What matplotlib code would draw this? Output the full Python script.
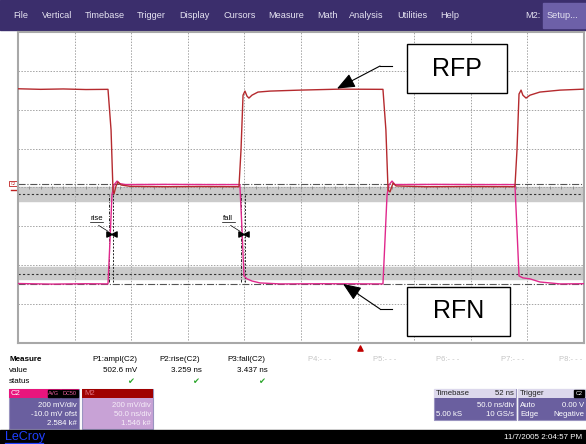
import matplotlib.pyplot as plt
import matplotlib.patches as mpatches
import numpy as np

plt.rcParams['font.family'] = ['Liberation Sans', 'DejaVu Sans']

# C2 trace (RFP) and M2 trace (RFN): time in ns, level in mV
t_rfp = [0, 20, 40, 60, 79.5, 82.2, 83.9, 84.8, 86.6, 88.3, 91, 99, 130, 160, 195.2,
         197, 198.8, 200.5, 202.3, 204, 206.7, 212, 222.6, 249, 284, 322.4, 325, 326.9,
         328.6, 331.3, 334, 360, 400, 439, 440.8, 442.6, 444.4, 446, 448.8, 452.3, 461,
         478.8, 500]
v_rfp = [508, 505, 507, 504, 505, 296, -13, -33, 8, 28, 13, 6, 4, 5, 4,
         193, 475, 496, 470, 460, 475, 491, 496, 501, 506, 505, 296, -13,
         -23, 23, 8, 4, 5, 4, 193, 481, 501, 475, 460, 475, 491,
         501, 506]

t_rfn = [0, 30, 60, 79.5, 81.3, 83, 84.8, 87.5, 90, 95, 130, 170, 196, 197.9, 199.6,
         202.3, 206.7, 213.8, 231.5, 270, 322.4, 324.2, 326, 327.7, 330.4, 333, 370,
         410, 439, 440.8, 442.6, 446, 452.3, 461, 478.8, 500]
v_rfn = [-494, -497, -495, -496, -270, -38, 13, 33, 20, 15, 16, 15, 15, -218, -455,
         -470, -481, -491, -496, -495, -496, -270, -38, 13, 33, 15, 16,
         15, 15, -218, -455, -465, -470, -486, -496, -495]

# rise / fall measurement on C2
top_level, base_level = 18, -495
band_90 = (-69, 3)
band_10 = (-472, -410)
level_90, level_10 = -33, -444
rise_start, rise_time = 80.6, 3.259
fall_start, fall_time = 197.1, 3.437

meas_names = ['P1:ampl(C2)', 'P2:rise(C2)', 'P3:fall(C2)']
meas_values = ['502.6 mV', '3.259 ns', '3.437 ns']
meas_x = [115, 180, 246]
empty_params = ['P4:- - -', 'P5:- - -', 'P6:- - -', 'P7:- - -', 'P8:- - -']
empty_x = [320, 385, 448, 513, 571]

menu_items = ['File', 'Vertical', 'Timebase', 'Trigger', 'Display', 'Cursors',
              'Measure', 'Math', 'Analysis', 'Utilities', 'Help']
menu_x = [13, 42, 85, 137, 179, 223, 268, 317, 349, 397, 440]

c_rfp = '#b52a2e'
c_rfn = '#e0288c'
purple = '#6a5f9f'

W, H = 586, 444
fig = plt.figure(figsize=(W / 100, H / 100), dpi=100)
fig.patch.set_facecolor('white')

# screen furniture drawn in pixel units
ov = fig.add_axes([0, 0, 1, 1], zorder=1)
ov.set_xlim(0, W)
ov.set_ylim(H, 0)
ov.axis('off')

ov.add_patch(mpatches.Rectangle((0, 0), W, 30, color='#3b2e6c'))
for name, x in zip(menu_items, menu_x):
    ov.text(x, 16, name, color='#e6e4f2', fontsize=6.6, va='center')
ov.text(525, 16, 'M2:', color='#e6e4f2', fontsize=6.6, va='center')
ov.add_patch(mpatches.Rectangle((543, 3), 50, 25, color='#6d60a8'))
ov.text(547, 16, 'Setup...', color='#e6e4f2', fontsize=6.6, va='center')

# channel marker on the left edge
ov.add_patch(mpatches.Rectangle((9, 181), 8, 5, fc='white', ec='#c02020', lw=0.6))
ov.text(13, 183.5, 'C2', color='#c02020', fontsize=3, ha='center', va='center')
ov.plot([11, 18], [190, 190], color='#c02020', lw=1)

# trigger position marker
ov.scatter([360], [347.5], marker='^', s=14, color='#c00000', zorder=3)

# measurement table
ov.text(9, 359, 'Measure', fontsize=5.8, fontweight='bold', va='center')
ov.text(9, 370, 'value', fontsize=5.8, va='center')
ov.text(9, 381, 'status', fontsize=5.8, va='center')
for name, val, x in zip(meas_names, meas_values, meas_x):
    ov.text(x, 359, name, fontsize=5.8, ha='center', va='center')
    ov.text(x + 22, 370, val, fontsize=5.8, ha='right', va='center')
    ov.text(x + 16, 381, '\u2714', fontsize=6, ha='center', va='center',
            color='#2aa52a', family='DejaVu Sans')
for name, x in zip(empty_params, empty_x):
    ov.text(x, 359, name, fontsize=5.5, ha='center', va='center', color='#c4c4c4')


def info_box(x0, x1, y0, y1, head_col, body_col, head_left, head_col_txt,
             lines, txt_col='white'):
    ov.add_patch(mpatches.Rectangle((x0, y0), x1 - x0, y1 - y0, fc=body_col,
                                    ec='#9a94c0', lw=0.8))
    ov.add_patch(mpatches.Rectangle((x0, y0), x1 - x0, 9, fc=head_col, ec='none'))
    ov.text(x0 + 2, y0 + 4.5, head_left, fontsize=5.6, va='center', color=head_col_txt)
    for i, (left, right) in enumerate(lines):
        y = y0 + 16.5 + 9.2 * i
        if left:
            ov.text(x0 + 2, y, left, fontsize=5.6, va='center', color=txt_col)
        ov.text(x1 - 2, y, right, fontsize=5.6, va='center', ha='right', color=txt_col)


info_box(9, 79, 389, 429, '#e8157d', purple, 'C2', 'white',
         [('', '200 mV/div'), ('', '-10.0 mV ofst'), ('', '2.584 k#')])
ov.add_patch(mpatches.Rectangle((48, 390), 12, 7, color='black'))
ov.add_patch(mpatches.Rectangle((61, 390), 17, 7, color='black'))
ov.text(54, 393.5, 'AVG', fontsize=4, color='#f060a0', ha='center', va='center')
ov.text(69.5, 393.5, 'DC50', fontsize=4, color='#f060a0', ha='center', va='center')

info_box(82, 153, 389, 429, '#a00000', '#c8a2d6', 'M2', '#e07080',
         [('', '200 mV/div'), ('', '50.0 ns/div'), ('', '1.546 k#')],
         txt_col='#f6eef8')

info_box(434, 516, 389, 420, '#dcd8ec', purple, 'Timebase', '#222222',
         [('', '50.0 ns/div'), ('5.00 kS', '10 GS/s')])
ov.text(514, 393.5, '52 ns', fontsize=5.6, va='center', ha='right', color='#222222')
info_box(518, 586, 389, 420, '#dcd8ec', purple, 'Trigger', '#222222',
         [('Auto', '0.00 V'), ('Edge', 'Negative')])
ov.add_patch(mpatches.Rectangle((574, 390), 10, 7, color='black'))
ov.text(579, 393.5, 'C2', fontsize=4, color='white', ha='center', va='center')

# status bar
ov.add_patch(mpatches.Rectangle((0, 430), W, 14, color='black'))
ov.text(5, 437, 'LeCroy', fontsize=9, color='#2040ff', va='center')
ov.plot([5, 43], [443, 443], color='#2040ff', lw=0.9)
ov.text(582, 437.5, '11/7/2005 2:04:57 PM', fontsize=5.8, color='white',
        ha='right', va='center')

# scope graticule
ax = fig.add_axes([18 / W, (H - 343) / H, 566 / W, 311 / H], zorder=2)
ax.set_xlim(0, 500)
ax.set_ylim(-800, 800)
ax.set_xticks(np.arange(50, 500, 50))
ax.set_yticks(np.arange(-600, 800, 200))
ax.tick_params(length=0, labelbottom=False, labelleft=False)
ax.grid(True, color='#a4a4a4', lw=0.7, linestyle=(0, (1.5, 1.5)))
for s in ax.spines.values():
    s.set_color('#a8a8a8')
    s.set_linewidth(1.5)

# minor ticks on the horizontal centre line
ax.vlines(np.arange(10, 500, 10), -10, 10, color='#888888', lw=0.6)

# threshold bands and levels
ax.axhspan(*band_90, color='#cbcbcb', zorder=1)
ax.axhspan(*band_10, color='#cbcbcb', zorder=1)
ax.axhline(top_level, color='#555555', lw=0.8, linestyle='-.', zorder=2)
ax.axhline(base_level, color='#555555', lw=0.8, linestyle='-.', zorder=2)
ax.axhline(level_90, color='#333333', lw=0.8, linestyle=(0, (2, 2)), zorder=2)
ax.axhline(level_10, color='#333333', lw=0.8, linestyle=(0, (2, 2)), zorder=2)

for t0, dt, lab in [(rise_start, rise_time, 'rise'), (fall_start, fall_time, 'fall')]:
    ax.vlines([t0, t0 + dt], base_level + 10, level_90 - 5, color='#222222', lw=0.7,
              linestyles=[(0, (3, 1.5, 1, 1.5)), (0, (2, 1.5))], zorder=3)
    tm = t0 + dt / 2
    vm = (top_level + base_level) / 2
    ax.scatter([tm - 2.2], [vm], marker='>', s=14, color='black', zorder=5)
    ax.scatter([tm + 2.2], [vm], marker='<', s=14, color='black', zorder=5)
    ax.text(tm - 13, -158, lab, fontsize=5.6, ha='center', va='center')
    ax.plot([tm - 19, tm - 7], [-178, -178], color='black', lw=0.5)
    ax.plot([tm - 11, tm - 2.5], [-195, -226], color='black', lw=0.5)

ax.plot(t_rfn, v_rfn, color=c_rfn, lw=1.0, zorder=4)
ax.plot(t_rfp, v_rfp, color=c_rfp, lw=1.0, zorder=4)

# trace labels
for lab, tip, y_lead, box in [('RFP', (281.8, 509), 625, (343.4, 485.8, 88.3, 252)),
                              ('RFN', (287.1, -496), -625, (343.4, -763, 91.2, 253))]:
    ax.plot([319.8, 330.4], [y_lead, y_lead], color='black', lw=0.8, zorder=5)
    ax.annotate('', xy=tip, xytext=(319.8, y_lead), zorder=5,
                arrowprops=dict(arrowstyle='-|>,head_length=1.1,head_width=0.45',
                                color='black', lw=0.8, shrinkA=0, shrinkB=0))
    bx, by, bw, bh = box
    ax.add_patch(mpatches.Rectangle((bx, by), bw, bh, fc='white', ec='black',
                                    lw=1.0, zorder=5))
    ax.text(bx + bw / 2, by + bh / 2, lab, fontsize=18, ha='center', va='center',
            zorder=6)

fig.savefig('out.png', dpi=100)
